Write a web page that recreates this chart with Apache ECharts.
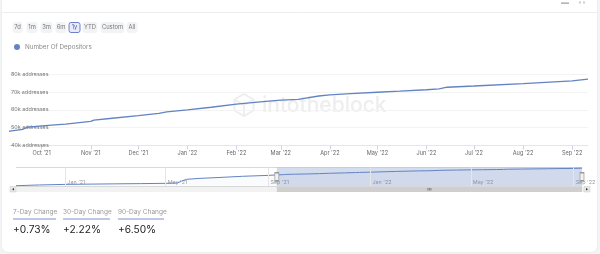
<!DOCTYPE html>
<html>
<head>
<meta charset="utf-8">
<script src="https://cdn.jsdelivr.net/npm/echarts@6/dist/echarts.min.js"></script>
<style>
html,body{margin:0;padding:0;width:600px;height:254px;overflow:hidden;background:#f3f4f6;}
#card{position:absolute;left:2px;top:-8px;width:595px;height:260px;background:#fff;border-radius:6px;box-shadow:0 0 2px rgba(0,0,0,0.08);}
#chart{position:absolute;left:0;top:0;width:600px;height:254px;}
</style>
</head>
<body>
<div id="card"></div>
<div id="chart"></div>
<script>
// ---- data ----
const seriesName = 'Number Of Depositors';
const dates = [
  '2020-11-03','2020-12-01','2021-01-01','2021-02-01','2021-03-01','2021-04-01','2021-05-01',
  '2021-05-15','2021-05-20','2021-05-26','2021-06-11','2021-07-05','2021-08-01','2021-09-01',
  '2021-09-11','2021-09-19','2021-09-22','2021-10-01','2021-10-16','2021-11-01','2021-11-03',
  '2021-11-13','2021-12-01','2021-12-14','2021-12-19','2022-01-01','2022-01-16','2022-02-01',
  '2022-02-16','2022-03-01','2022-03-12','2022-03-25','2022-04-01','2022-04-14','2022-05-01',
  '2022-05-15','2022-06-01','2022-06-09','2022-06-14','2022-07-01','2022-08-01','2022-09-01',
  '2022-09-11'
];
const depositors = [
  1300,4500,7000,8200,9300,10300,11500,
  13000,21000,29000,33000,37000,42000,46000,
  48100,49000,50200,51000,52000,53500,54200,
  55100,56700,58000,58800,59900,61400,63100,
  64400,65400,65800,67700,68300,69000,69800,
  70400,71200,71700,72600,73300,74600,76100,
  77100
];
const windowStart = '2021-09-11';
const windowEnd = '2022-09-11';
const yTicks = [40000, 50000, 60000, 70000, 80000];
const navTicks = ['2021-01-01','2021-05-01','2021-09-01','2022-01-01','2022-05-01','2022-09-01'];
const rangeButtons = ['7d','1m','3m','6m','1y','YTD','Custom','All'];
const selectedButton = '1y';
const changeLabels = ['7-Day Change','30-Day Change','90-Day Change'];
const changeValues = ['+0.73%','+2.22%','+6.50%'];
const monthNames = ['Jan','Feb','Mar','Apr','May','Jun','Jul','Aug','Sep','Oct','Nov','Dec'];

const FONT = 'Inter, "Noto Sans", sans-serif';
const BLUE = '#6383c3';

const pairs = dates.map((d, i) => [d, depositors[i]]);
function fmtMonth(v){
  const d = new Date(v);
  return monthNames[d.getMonth()] + " '" + String(d.getFullYear()).slice(2);
}

// ---- static UI graphics ----
const btnGeom = [[13,9],[27,10],[41,11],[56,10],[69,11],[83,14],[101,23],[127,10]];
const graphics = [];
rangeButtons.forEach((b, i) => {
  const sel = b === selectedButton;
  graphics.push({type:'rect', shape:{x:btnGeom[i][0], y:22.5, width:btnGeom[i][1], height:10, r:2},
    style:{fill: sel ? '#e9ecf8' : '#f2f3f5', stroke: sel ? '#6f7fcb' : '#f2f3f5', lineWidth:1}, silent:true});
  graphics.push({type:'text', x:btnGeom[i][0] + btnGeom[i][1]/2, y:27.7,
    style:{text:b, fill: sel ? '#4f5ea8' : '#777', font:'5.8px ' + FONT, align:'center', verticalAlign:'middle'}, silent:true});
});
// header separator & icons
graphics.push({type:'line', shape:{x1:2, y1:12.5, x2:597, y2:12.5}, style:{stroke:'#ededed', lineWidth:1}, silent:true});
graphics.push({type:'rect', shape:{x:561, y:2.5, width:8, height:1.2}, style:{fill:'#999'}, silent:true});
graphics.push({type:'rect', shape:{x:579, y:1.5, width:2, height:2}, style:{fill:'#ccc'}, silent:true});
graphics.push({type:'rect', shape:{x:583, y:1.5, width:2, height:2}, style:{fill:'#ccc'}, silent:true});
// watermark
graphics.push({type:'polygon', z:-1, shape:{points:[[244,94],[253.5,99.5],[253.5,110.5],[244,116],[234.5,110.5],[234.5,99.5]]},
  style:{fill:'none', stroke:'#eeeeee', lineWidth:2}, silent:true});
graphics.push({type:'polyline', z:-1, shape:{points:[[234.5,99.5],[244,105],[253.5,99.5]]}, style:{fill:'none', stroke:'#eeeeee', lineWidth:2}, silent:true});
graphics.push({type:'line', z:-1, shape:{x1:244, y1:105, x2:244, y2:116}, style:{stroke:'#eeeeee', lineWidth:2}, silent:true});
graphics.push({type:'text', z:-1, x:262, y:106, style:{text:'intotheblock', fill:'#eeeeee', font:'500 21px ' + FONT, verticalAlign:'middle'}, silent:true});
// change stats
const statX = [13, 63, 118];
const statW = [43, 47, 46];
changeLabels.forEach((t, i) => {
  graphics.push({type:'text', x:statX[i], y:212, style:{text:t, fill:'#9a9a9a', font:'6.5px ' + FONT, verticalAlign:'middle'}, silent:true});
  graphics.push({type:'line', shape:{x1:statX[i], y1:219, x2:statX[i]+statW[i], y2:219}, style:{stroke:'#7f90cf', lineWidth:1}, silent:true});
  graphics.push({type:'text', x:statX[i], y:230, style:{text:changeValues[i], fill:'#222', font:'10.2px ' + FONT, verticalAlign:'middle'}, silent:true});
});

const chart = echarts.init(document.getElementById('chart'), null, {renderer:'canvas'});
const option = {
  backgroundColor:'transparent',
  animation:false,
  textStyle:{fontFamily:FONT},
  legend:{
    data:[seriesName], left:12, top:42, padding:[2,2,2,2], icon:'circle', itemWidth:6, itemHeight:6, itemGap:4,
    textStyle:{fontSize:6.3, color:'#8a8a8a', fontFamily:FONT}
  },
  grid:[
    {left:10, right:12, top:74, height:71.5},
    {left:16, right:18, top:167.5, height:18.5}
  ],
  xAxis:[
    {type:'time', gridIndex:0, min:windowStart, max:windowEnd, splitNumber:12,
      axisLine:{show:true, lineStyle:{color:'#e6e6e6'}},
      axisTick:{show:true, length:4, lineStyle:{color:'#ccd6eb'}},
      axisLabel:{formatter:fmtMonth, fontSize:5.6, color:'#666', margin:5, showMinLabel:false, showMaxLabel:false, fontFamily:FONT},
      splitLine:{show:false}},
    {type:'time', gridIndex:1, min:dates[0], max:dates[dates.length-1], splitNumber:22,
      axisLine:{show:false}, axisTick:{show:false}, splitLine:{show:false},
      axisLabel:{inside:true, align:'left', verticalAlign:'bottom', margin:1, padding:[0,0,0,2],
        fontSize:5.4, color:'#999', fontFamily:FONT, showMinLabel:false, showMaxLabel:false,
        formatter:function(v){ const d=new Date(v); return (d.getMonth()%4===0 && d.getDate()===1) ? fmtMonth(v) : ''; }}}
  ],
  yAxis:[
    {type:'value', gridIndex:0, min:yTicks[0], max:yTicks[yTicks.length-1], interval:yTicks[1]-yTicks[0],
      axisLine:{show:false}, axisTick:{show:false},
      splitLine:{lineStyle:{color:'#f3f3f3'}},
      axisLabel:{inside:true, margin:1, verticalAlign:'middle', padding:[0,0,4,0], fontSize:5.4, color:'#777', fontFamily:FONT,
        formatter:function(v){ return (v/1000) + 'k addresses'; }}},
    {type:'value', gridIndex:1, min:0, max:80000, interval:80000,
      axisLine:{show:false}, axisTick:{show:false}, axisLabel:{show:false},
      splitLine:{lineStyle:{color:'#d9d9d9'}}}
  ],
  series:[
    {name:seriesName, type:'line', xAxisIndex:0, yAxisIndex:0, data:pairs, showSymbol:false, clip:true,
      color:BLUE, lineStyle:{width:1.3, color:BLUE}, z:3},
    {name:'navigator', type:'line', xAxisIndex:1, yAxisIndex:1, data:pairs, showSymbol:false,
      color:BLUE, lineStyle:{width:1, color:BLUE}, areaStyle:{color:'rgba(102,133,194,0.05)'},
      markLine:{silent:true, symbol:'none', label:{show:false}, lineStyle:{color:'#e6e6e6', width:1, type:'solid'},
        data:navTicks.map(t => ({xAxis:t}))},
      markArea:{silent:true, itemStyle:{color:'rgba(102,133,194,0.28)'},
        data:[[{xAxis:windowStart},{xAxis:windowEnd}]]},
      markPoint:{silent:true, symbol:'rect', symbolSize:[4,8], label:{show:false},
        itemStyle:{color:'#f2f2f2', borderColor:'#999', borderWidth:1},
        data:[{coord:[windowStart,40000]},{coord:[windowEnd,40000]}]}
    }
  ],
  graphic:graphics
};
chart.setOption(option);

// scrollbar derived from navigator axis
const sx0 = chart.convertToPixel({xAxisIndex:1}, windowStart);
const sx1 = chart.convertToPixel({xAxisIndex:1}, windowEnd);
const sb = [
  {type:'rect', shape:{x:10, y:186.5, width:580, height:5.5}, style:{fill:'#f2f2f2'}, silent:true},
  {type:'rect', shape:{x:sx0, y:186.5, width:sx1-sx0, height:5.5}, style:{fill:'#cfcfcf'}, silent:true},
  {type:'rect', shape:{x:10, y:186.5, width:6, height:5.5}, style:{fill:'#e6e6e6', stroke:'#cccccc', lineWidth:0.5}, silent:true},
  {type:'rect', shape:{x:584, y:186.5, width:6, height:5.5}, style:{fill:'#e6e6e6', stroke:'#cccccc', lineWidth:0.5}, silent:true},
  {type:'polygon', shape:{points:[[12,189.2],[14,188],[14,190.4]]}, style:{fill:'#333'}, silent:true},
  {type:'polygon', shape:{points:[[588,189.2],[586,188],[586,190.4]]}, style:{fill:'#333'}, silent:true}
];
const mid = (sx0 + sx1) / 2;
[-1.5, 0, 1.5].forEach(o => sb.push({type:'line', shape:{x1:mid+o, y1:188, x2:mid+o, y2:190.5}, style:{stroke:'#333', lineWidth:0.5}, silent:true}));
chart.setOption({graphic: graphics.concat(sb)});
</script>
</body>
</html>
